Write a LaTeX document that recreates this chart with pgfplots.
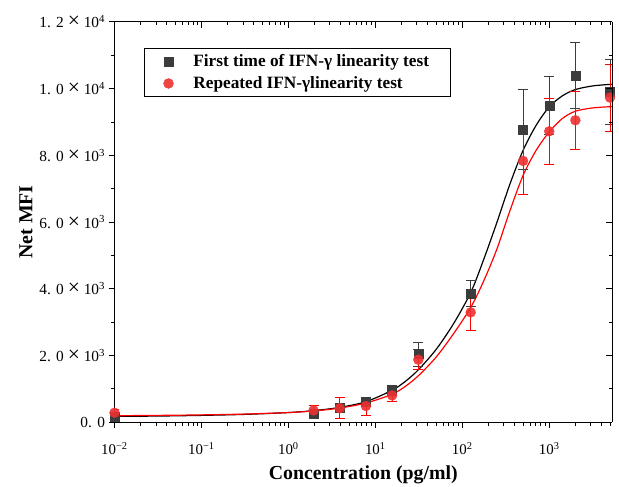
\documentclass[border=0pt]{standalone}
\usepackage{fontspec}
\setmainfont{Liberation Serif}
\usepackage{graphicx}
\usepackage{pgfplots}
\usepackage{pgfplotstable}
\pgfplotsset{compat=1.18}
\definecolor{sqgray}{HTML}{3C3C3C}
\definecolor{cred}{HTML}{EE3030}
\newcommand{\sci}[3]{#1.\hspace{0.35em}#2\hspace{0.25em}\scalebox{1.4}{×}\hspace{0.25em}10\textsuperscript{#3}}

\pgfplotstableread{
x y e
0.01 170 40
1.95 265 120
3.9 440 100
7.8 600 120
15.6 950 150
31.25 2040 360
125 3860 390
500 8780 1200
1000 9500 860
2000 10390 990
5000 9910 980
}\firstdata

\pgfplotstableread{
x y e
0.01 280 100
1.95 350 150
3.9 415 320
7.8 480 270
15.6 800 170
31.25 1870 300
125 3290 550
500 7830 1010
1000 8720 1000
2000 9050 880
5000 9730 1010
}\repdata

\pgfplotstableread{
x yb yr
0.01 170 190
0.0316 180 200
0.1 200 215
0.316 230 240
1 285 285
2 345 335
3.89 440 420
7.76 610 570
15.5 950 830
22.4 1230 1080
31.6 1580 1400
50.1 2180 1950
79.4 2950 2650
125.9 3900 3450
177.8 4900 4250
251.2 6000 5200
354.8 7150 6350
501.2 8150 7400
707.9 8900 8150
1000 9450 8700
1412.5 9780 9100
1995 9970 9320
3162 10080 9420
5248 10130 9460
}\fitdata

\begin{document}
\begin{tikzpicture}
\begin{axis}[name=main,
  scale only axis, width=500bp, height=402bp,
  xmode=log, log basis x=10,
  xmin=0.01, xmax=5300, ymin=0, ymax=12000,
  scaled y ticks=false,
  xtick={0.01,0.1,1,10,100,1000},
  minor xtick={0.02,0.03,0.04,0.05,0.06,0.07,0.08,0.09,
               0.2,0.3,0.4,0.5,0.6,0.7,0.8,0.9,
               2,3,4,5,6,7,8,9,20,30,40,50,60,70,80,90,
               200,300,400,500,600,700,800,900,2000,3000,4000,5000},
  ytick={0,2000,4000,6000,8000,10000,12000},
  minor ytick={1000,3000,5000,7000,9000,11000},
  major tick length=6bp, minor tick length=3.5bp,
  tick style={line width=0.8pt, black},
  axis line style={line width=1pt, black},
  axis x line*=bottom, axis y line*=left, tick align=outside,
  xticklabels={10\textsuperscript{−2},10\textsuperscript{−1},10\textsuperscript{0},10\textsuperscript{1},10\textsuperscript{2},10\textsuperscript{3}},
  yticklabels={0.\hspace{0.35em}0,\sci{2}{0}{3},\sci{4}{0}{3},\sci{6}{0}{3},\sci{8}{0}{3},\sci{1}{0}{4},\sci{1}{2}{4}},
  xticklabel style={font=\fontsize{15}{17}\selectfont, yshift=-11bp},
  yticklabel style={font=\fontsize{15.5}{17}\selectfont},
  xlabel={\bfseries Concentration (pg/ml)},
  ylabel={\bfseries Net MFI},
  xlabel style={font=\fontsize{20}{24}\selectfont, yshift=-4bp},
  ylabel style={font=\fontsize{20}{24}\selectfont},
  legend style={at={(0.06,0.935)}, anchor=north west, draw=black, line width=0.6pt,
    font=\bfseries\fontsize{17.4}{20}\selectfont, inner xsep=19bp, inner ysep=4.5bp,
    row sep=4.5bp, cells={anchor=west}},
]
\addplot[black, line width=1.2pt, smooth, forget plot] table[x=x, y=yb]{\fitdata};
\addplot[red, line width=1.2pt, smooth, forget plot] table[x=x, y=yr]{\fitdata};
\addplot[only marks, mark=square*, mark size=4.5bp,
  mark options={fill=sqgray, draw=sqgray, line width=0.3pt},
  error bars/.cd, y dir=both, y explicit,
  error bar style={line width=0.8pt, sqgray},
  error mark options={rotate=90, mark size=5bp, line width=0.8pt, sqgray}]
  table[x=x, y=y, y error=e]{\firstdata};
\addlegendentry{\hspace{18bp}First time of IFN-γ linearity test}
\addplot[only marks, mark=*, mark size=5bp,
  mark options={fill=cred, draw=cred, fill opacity=0.9, line width=0.3pt},
  error bars/.cd, y dir=both, y explicit,
  error bar style={line width=0.8pt, red},
  error mark options={rotate=90, mark size=5bp, line width=0.8pt, red}]
  table[x=x, y=y, y error=e]{\repdata};
\addlegendentry{\hspace{18bp}Repeated IFN-γlinearity test}
\end{axis}
\begin{axis}[
  scale only axis, width=500bp, height=402bp,
  xmode=log, log basis x=10,
  xmin=0.01, xmax=5300, ymin=0, ymax=12000,
  scaled y ticks=false,
  xtick={0.01,0.1,1,10,100,1000},
  minor xtick={0.02,0.03,0.04,0.05,0.06,0.07,0.08,0.09,
               0.2,0.3,0.4,0.5,0.6,0.7,0.8,0.9,
               2,3,4,5,6,7,8,9,20,30,40,50,60,70,80,90,
               200,300,400,500,600,700,800,900,2000,3000,4000,5000},
  ytick={0,2000,4000,6000,8000,10000,12000},
  minor ytick={1000,3000,5000,7000,9000,11000},
  major tick length=6bp, minor tick length=3.5bp,
  tick style={line width=0.8pt, black},
  axis line style={line width=1pt, black},
  axis x line*=top, axis y line*=right, tick align=inside,
  xticklabels={}, yticklabels={}]
\addplot[draw=none, forget plot] coordinates {(1,1000)};
\end{axis}
\path ([shift={(-115bp,-61bp)}]main.south west) rectangle ([shift={(4bp,22bp)}]main.north east);
\end{tikzpicture}
\end{document}
